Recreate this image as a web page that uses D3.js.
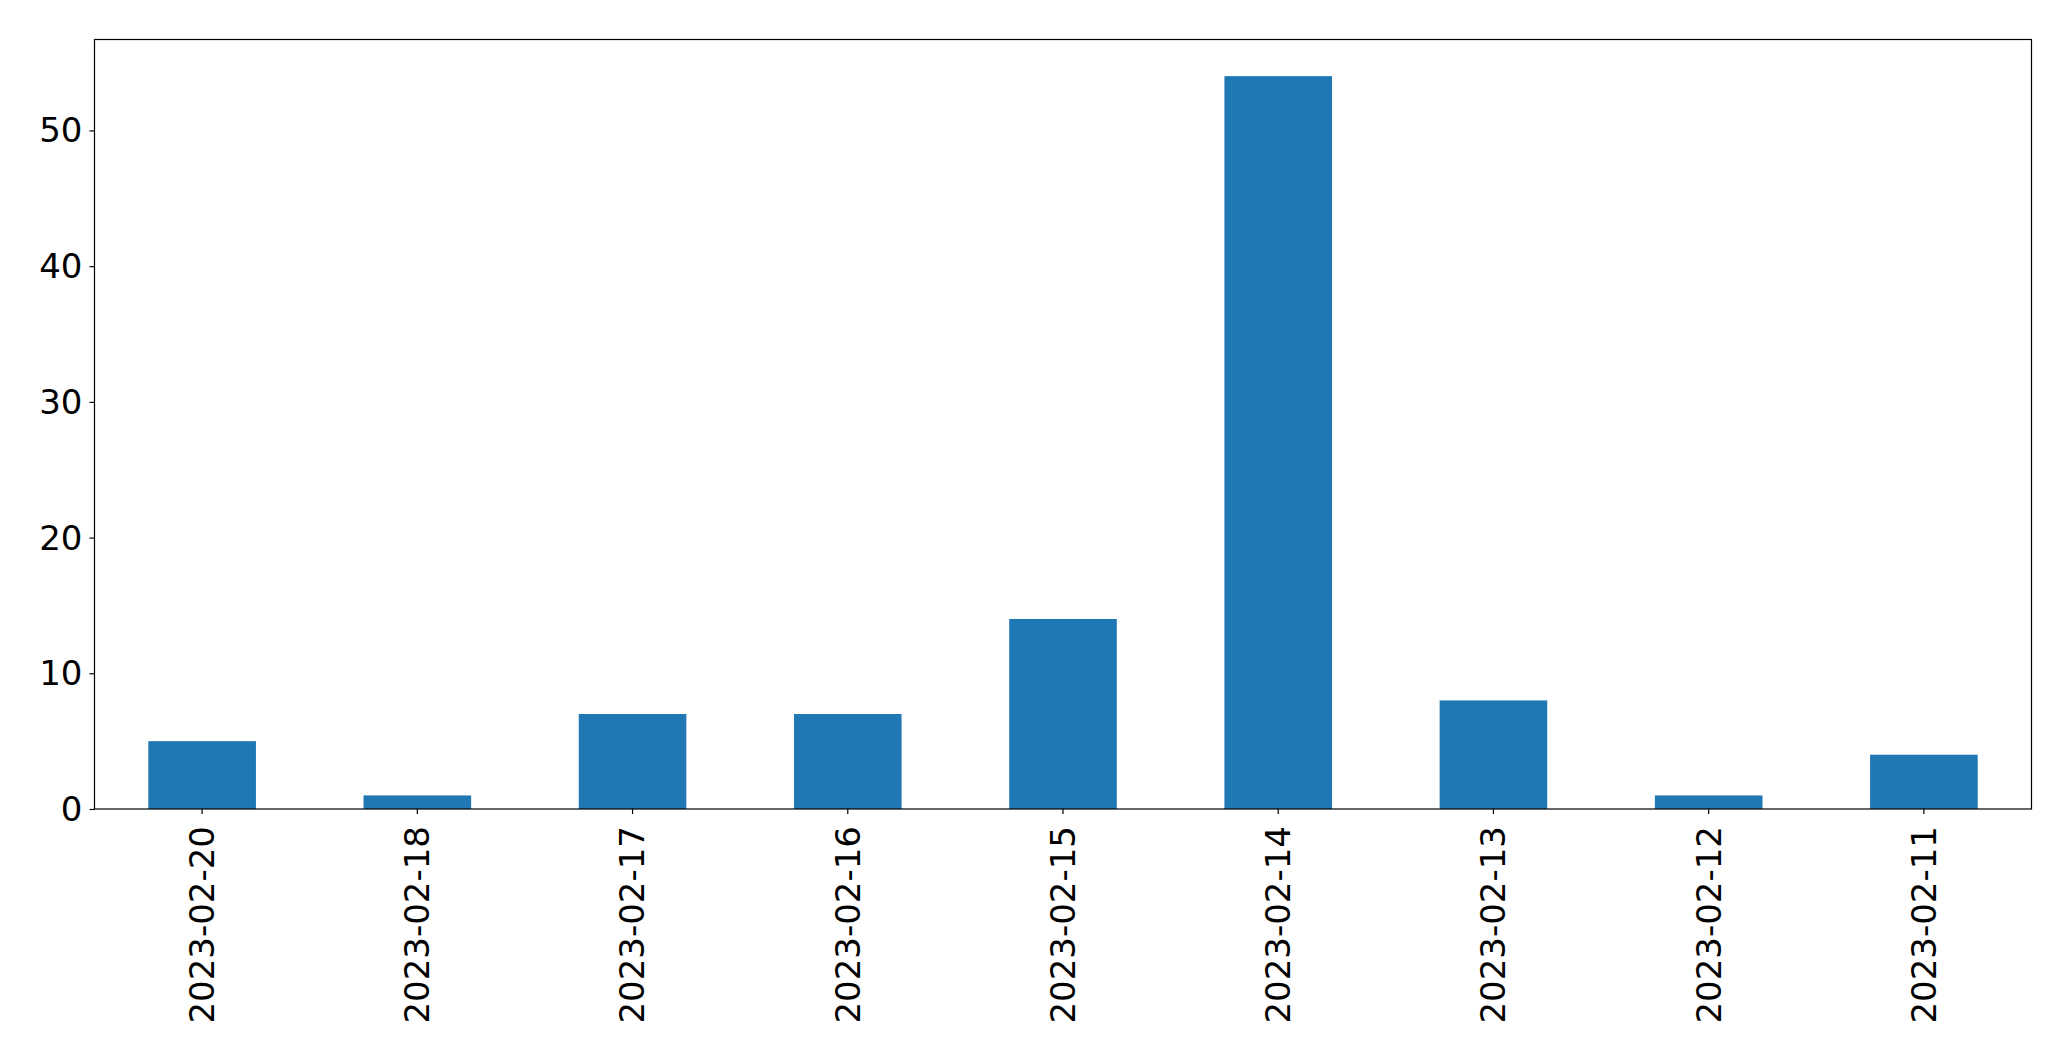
<!DOCTYPE html>
<html><head><meta charset="utf-8">
<script src="https://cdn.jsdelivr.net/npm/d3@7"></script>
<style>body{margin:0;background:#fff}svg{display:block}text{font-family:"DejaVu Sans";fill:#000}</style>
</head><body><svg id="c" width="2071" height="1061"></svg>
<script>
const categories = ["2023-02-20","2023-02-18","2023-02-17","2023-02-16","2023-02-15","2023-02-14","2023-02-13","2023-02-12","2023-02-11"];
const values = [5,1,7,7,14,54,8,1,4];
const yTicks = [0,10,20,30,40,50];

const svg = d3.select("#c");
const L=94.5, R=2031.5, T=39.5, B=809;
const x = d3.scaleBand().domain(categories).range([L,R]).paddingInner(0.5).paddingOuter(0.25);
const y = d3.scaleLinear().domain([0, d3.max(values)*1.05]).range([B,T]);

svg.append("g").selectAll("rect").data(values).join("rect")
  .attr("x",(d,i)=>x(categories[i])).attr("width",x.bandwidth())
  .attr("y",d=>y(d)).attr("height",d=>B-y(d)).attr("fill","#1f77b4");

const ya = svg.append("g").attr("transform",`translate(${L},0)`)
  .call(d3.axisLeft(y).tickValues(yTicks).tickSize(5).tickPadding(7));
ya.select(".domain").remove();
ya.selectAll("text").style("font-size","34px").attr("dy","0.34em");
ya.selectAll("line").attr("stroke","#000").attr("stroke-width",1.2);

const xa = svg.append("g").attr("transform",`translate(0,${B})`)
  .call(d3.axisBottom(x).tickSize(5).tickPadding(0));
xa.select(".domain").remove();
xa.selectAll("line").attr("stroke","#000").attr("stroke-width",1.2);
xa.selectAll("text").style("font-size","34px")
  .attr("text-anchor","end").attr("dy","0.35em")
  .attr("transform","translate(0,17) rotate(-90)").attr("y",0).attr("x",0);

svg.append("rect").attr("x",L).attr("y",T).attr("width",R-L).attr("height",B-T)
  .attr("fill","none").attr("stroke","#000").attr("stroke-width",1.2);
</script></body></html>
